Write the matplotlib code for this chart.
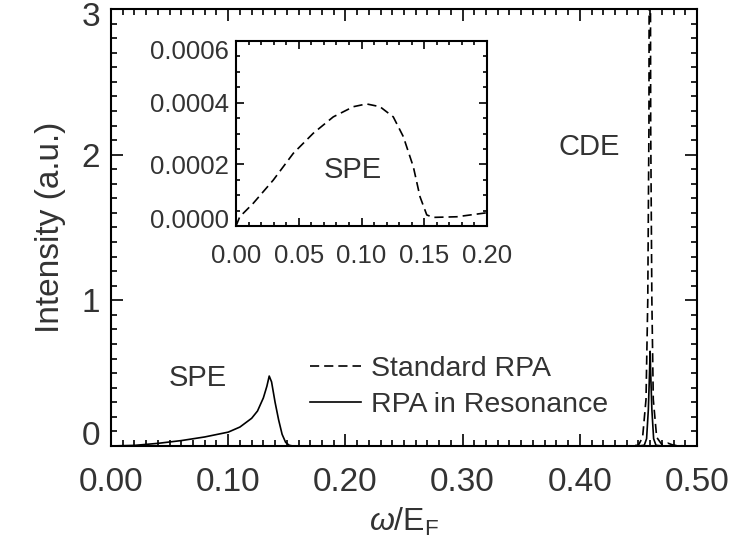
import matplotlib
matplotlib.use('Agg')
import matplotlib.pyplot as plt
import matplotlib.transforms as mtransforms
from matplotlib.ticker import MultipleLocator, FixedLocator

plt.rcParams['font.family'] = ['Liberation Sans', 'DejaVu Sans']
plt.rcParams['mathtext.fontset'] = 'custom'
plt.rcParams['mathtext.rm'] = 'Liberation Sans'
plt.rcParams['mathtext.it'] = 'Liberation Sans:italic'

txt = '#333333'

# standard RPA, single particle part
w_spe_std = [0.000, 0.003, 0.0138, 0.0297, 0.0457, 0.0616, 0.0775, 0.0935, 0.104,
             0.1147, 0.1253, 0.1333, 0.1413, 0.1466, 0.152, 0.157, 0.1759, 0.1998]
i_spe_std = [0.0, 0.00003, 0.000074, 0.000149, 0.000236, 0.000301, 0.000354, 0.000387, 0.000396,
             0.000387, 0.000354, 0.00029, 0.000192, 0.000095, 0.000036, 0.000028, 0.00003, 0.000043]

# standard RPA, collective (CDE) peak
w_cde_std = [0.20, 0.44, 0.450, 0.4536, 0.4565, 0.458, 0.459, 0.4597, 0.4605,
             0.4615, 0.4627, 0.4656, 0.470, 0.475, 0.480, 0.49, 0.50]
i_cde_std = [0.0, 0.0, 0.005, 0.06, 0.32, 1.0, 2.2, 6.0, 2.2,
             1.0, 0.32, 0.06, 0.01, 0.02, 0.005, 0.0, 0.0]

# RPA in resonance
w_res = [0.0, 0.02, 0.04, 0.06, 0.08, 0.10, 0.11, 0.12, 0.125, 0.130, 0.133, 0.135,
         0.137, 0.140, 0.143, 0.146, 0.149, 0.152, 0.155, 0.45, 0.455, 0.457, 0.4585,
         0.4595, 0.460, 0.4605, 0.4615, 0.463, 0.465, 0.47, 0.50]
i_res = [0.0, 0.004, 0.018, 0.037, 0.062, 0.095, 0.13, 0.19, 0.24, 0.33, 0.41, 0.48,
         0.44, 0.30, 0.18, 0.08, 0.025, 0.005, 0.0, 0.0, 0.005, 0.05, 0.25,
         0.5, 0.65, 0.5, 0.25, 0.05, 0.005, 0.0, 0.0]

main_yticks = [0, 1, 2, 3]
inset_yticks = [0.0, 0.0002, 0.0004, 0.0006]

dash = (0, (5.5, 3))

fig = plt.figure(figsize=(7.48, 5.37), dpi=100)
ax = fig.add_axes([0.1484, 0.1695, 0.7834, 0.8138])

ax.plot(w_spe_std + w_cde_std, i_spe_std + i_cde_std, color='black', lw=1.2,
        linestyle=dash, label='Standard RPA')
ax.plot(w_res, i_res, color='black', lw=1.2, label='RPA in Resonance')

ax.set_xlim(0, 0.5)
ax.set_ylim(0, 3)
ax.xaxis.set_major_locator(MultipleLocator(0.1))
ax.xaxis.set_minor_locator(MultipleLocator(0.01))
ax.yaxis.set_major_locator(FixedLocator(main_yticks))
ax.yaxis.set_minor_locator(MultipleLocator(0.1))
ax.xaxis.set_major_formatter(plt.FuncFormatter(lambda v, p: f'{v:.2f}'))
ax.yaxis.set_major_formatter(plt.FuncFormatter(lambda v, p: f'{v:.0f}'))
ax.tick_params(which='both', direction='in', top=True, right=True,
               labelsize=24, labelcolor=txt, width=1.2)
ax.tick_params(which='major', length=8.5)
ax.tick_params(which='minor', length=4.3)
ax.tick_params(axis='x', pad=15)
ax.tick_params(axis='y', pad=8)
for s in ax.spines.values():
    s.set_linewidth(1.5)

ax.set_ylabel('Intensity (a.u.)', fontsize=24, color=txt)
ax.yaxis.set_label_coords(-0.077, 0.5)
ax.set_xlabel(r'$\omega$/E$_{\rm F}$', fontsize=23, color=txt)
ax.xaxis.set_label_coords(0.5, -0.137)

ax.text(0.408, 2.05, 'CDE', fontsize=21, color=txt, ha='center', va='center')
ax.text(0.074, 0.47, 'SPE', fontsize=21, color=txt, ha='center', va='center')

leg = ax.legend(loc='upper left', bbox_to_anchor=(0.339, 0.206), frameon=False,
                fontsize=20.5, handlelength=1.8, handletextpad=0.35,
                labelspacing=0.35, borderpad=0, borderaxespad=0)
for t in leg.get_texts():
    t.set_color(txt)

# inset
ins = fig.add_axes([0.3155, 0.5791, 0.3356, 0.3445])
ins.plot(w_spe_std, i_spe_std, color='black', lw=1.2, linestyle=dash)
ins.set_xlim(0, 0.2)
ins.set_ylim(0, 0.0006)
ins.xaxis.set_major_locator(MultipleLocator(0.05))
ins.xaxis.set_minor_locator(MultipleLocator(0.01))
ins.yaxis.set_major_locator(FixedLocator(inset_yticks))
ins.yaxis.set_minor_locator(MultipleLocator(0.00005))
ins.xaxis.set_major_formatter(plt.FuncFormatter(lambda v, p: f'{v:.2f}'))
ins.yaxis.set_major_formatter(plt.FuncFormatter(lambda v, p: f'{v:.4f}'))
ins.tick_params(which='both', direction='in', top=True, right=True,
                labelsize=18.5, labelcolor=txt, width=1.2)
ins.tick_params(which='major', length=6)
ins.tick_params(which='minor', length=3)
ins.tick_params(axis='x', pad=13)
ins.tick_params(axis='y', pad=5)
for s in ins.spines.values():
    s.set_linewidth(1.5)
ins.text(0.093, 0.000182, 'SPE', fontsize=21, color=txt, ha='center', va='center')


def shift_label(tick, dy_px):
    off = mtransforms.ScaledTranslation(0, dy_px / 100, fig.dpi_scale_trans)
    tick.label1.set_transform(tick.label1.get_transform() + off)


# IDL style: end labels nudged inside the axis range
fig.canvas.draw()
mt = ax.yaxis.get_major_ticks()
shift_label(mt[0], 13)
shift_label(mt[-1], -5)
it = ins.yaxis.get_major_ticks()
shift_label(it[0], 8)
shift_label(it[-1], -8)

fig.savefig('out.png', dpi=100)
